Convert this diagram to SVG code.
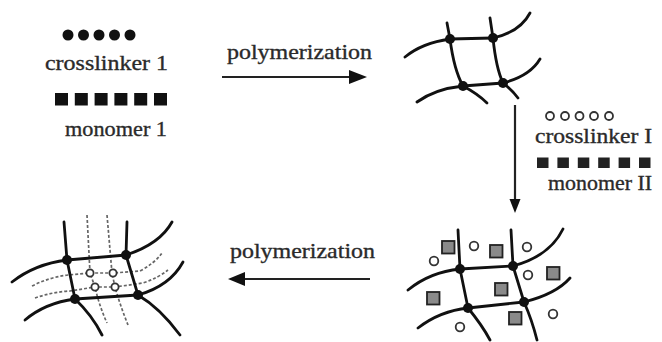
<svg xmlns="http://www.w3.org/2000/svg" width="662" height="342" viewBox="0 0 662 342">
  <style>
    .lbl { font-family: "Times New Roman", Times, "Liberation Serif", "DejaVu Serif", serif; font-size: 21px; fill: #2a2a2a; stroke: #2a2a2a; stroke-width: 0.35; }
    .chain { fill: none; stroke: #111; stroke-width: 2.8; stroke-linecap: round; stroke-linejoin: round; }
    .dash { fill: none; stroke: #666; stroke-width: 1.7; stroke-dasharray: 3 2; }
    .node { fill: #111; }
    .xl { fill: #111; }
    .xl2 { fill: #fff; stroke: #333; stroke-width: 1.8; }
    .mono { fill: #111; }
    .mono2 { fill: #222; }
    .gsq { fill: #8a8a8a; stroke: #222; stroke-width: 1.8; }
    .arrow { stroke: #222; stroke-width: 2.2; fill: none; }
    .head { fill: #111; }
  </style>

  <!-- reagents for the first network -->
  <g id="reagents-1">
    <circle class="xl" cx="68" cy="35" r="5.5"/>
    <circle class="xl" cx="83.5" cy="35" r="5.5"/>
    <circle class="xl" cx="99" cy="35" r="5.5"/>
    <circle class="xl" cx="114.5" cy="35" r="5.5"/>
    <circle class="xl" cx="130" cy="35" r="5.5"/>
    <text class="lbl" x="45" y="70" textLength="123" lengthAdjust="spacingAndGlyphs">crosslinker 1</text>
    <rect class="mono" x="55" y="93" width="13" height="12.5"/>
    <rect class="mono" x="74.8" y="93" width="13" height="12.5"/>
    <rect class="mono" x="94.6" y="93" width="13" height="12.5"/>
    <rect class="mono" x="114.4" y="93" width="13" height="12.5"/>
    <rect class="mono" x="134.2" y="93" width="13" height="12.5"/>
    <rect class="mono" x="154" y="93" width="13" height="12.5"/>
    <text class="lbl" x="65" y="136" textLength="102" lengthAdjust="spacingAndGlyphs">monomer 1</text>
  </g>

  <!-- first network -->
  <g id="network-1">
    <path class="chain" d="M405,57 Q422,43 450,39 L493,38 Q520,32 530,13"/>
    <path class="chain" d="M417,102 Q435,89 463,86 L503,83 Q530,76 540,59"/>
    <path class="chain" d="M447,23 L450,39 Q454,70 463,86 Q478,94 487,103"/>
    <path class="chain" d="M490,18 L493,38 Q496,68 503,83 Q512,90 518,98"/>
    <circle class="node" cx="450" cy="39" r="5"/>
    <circle class="node" cx="493" cy="38" r="5"/>
    <circle class="node" cx="463" cy="86" r="5"/>
    <circle class="node" cx="503" cy="83" r="5"/>
  </g>

  <!-- reagents for the second network -->
  <g id="reagents-2">
    <circle class="xl2" cx="550" cy="116" r="4"/>
    <circle class="xl2" cx="565" cy="116" r="4"/>
    <circle class="xl2" cx="579.5" cy="116" r="4"/>
    <circle class="xl2" cx="594" cy="116" r="4"/>
    <circle class="xl2" cx="609" cy="116" r="4"/>
    <text class="lbl" x="535" y="143" textLength="117" lengthAdjust="spacingAndGlyphs">crosslinker I</text>
    <rect class="mono2" x="537" y="157.5" width="11.5" height="10.5"/>
    <rect class="mono2" x="557.4" y="157.5" width="11.5" height="10.5"/>
    <rect class="mono2" x="577.8" y="157.5" width="11.5" height="10.5"/>
    <rect class="mono2" x="598.2" y="157.5" width="11.5" height="10.5"/>
    <rect class="mono2" x="618.6" y="157.5" width="11.5" height="10.5"/>
    <rect class="mono2" x="639" y="157.5" width="11.5" height="10.5"/>
    <text class="lbl" x="548" y="190" textLength="104" lengthAdjust="spacingAndGlyphs">monomer II</text>
  </g>

  <!-- swollen network with second monomer and crosslinker -->
  <g id="network-swollen">
    <path class="chain" d="M408,290 Q430,272 460,269 L513,266 Q550,256 563,229"/>
    <path class="chain" d="M418,328 Q440,311 468,308 L524,302 Q556,294 570,278"/>
    <path class="chain" d="M458,230 L460,269 L468,308 Q482,325 490,340"/>
    <path class="chain" d="M511,230 L513,266 L524,302 Q532,320 537,340"/>
    <circle class="node" cx="460" cy="269" r="5"/>
    <circle class="node" cx="513" cy="266" r="5"/>
    <circle class="node" cx="468" cy="308" r="5"/>
    <circle class="node" cx="524" cy="302" r="5"/>
    <rect class="gsq" x="442" y="241" width="12.5" height="12.5"/>
    <rect class="gsq" x="490" y="245" width="12.5" height="12.5"/>
    <rect class="gsq" x="547" y="267" width="12.5" height="12.5"/>
    <rect class="gsq" x="427" y="292" width="12.5" height="12.5"/>
    <rect class="gsq" x="495" y="283" width="12.5" height="12.5"/>
    <rect class="gsq" x="509" y="312" width="12.5" height="12.5"/>
    <circle class="xl2" cx="474" cy="246" r="4.3"/>
    <circle class="xl2" cx="527" cy="247" r="4.3"/>
    <circle class="xl2" cx="434" cy="261" r="4.3"/>
    <circle class="xl2" cx="528" cy="275" r="4.3"/>
    <circle class="xl2" cx="553" cy="314" r="4.3"/>
    <circle class="xl2" cx="460" cy="327" r="4.3"/>
  </g>

  <!-- interpenetrating network -->
  <g id="network-ipn">
    <path class="dash" d="M87,215 L90,273 L95,287 Q99,305 107,323"/>
    <path class="dash" d="M107,215 L112,273 L115,287 Q120,305 128,325"/>
    <path class="dash" d="M32,286 Q50,277 68,275 L90,273 L113,273 L140,271 Q155,263 162,253"/>
    <path class="dash" d="M35,298 Q52,292 70,291 L95,287 L115,287 L143,283 Q158,278 168,270"/>
    <path class="chain" d="M12,282 Q35,264 67,260 L126,255 Q160,244 172,222"/>
    <path class="chain" d="M25,320 Q45,303 75,299 L138,295 Q170,286 183,262"/>
    <path class="chain" d="M64,222 L67,260 L75,299 Q92,315 102,335"/>
    <path class="chain" d="M127,222 L126,255 L138,295 Q160,308 180,335"/>
    <circle class="node" cx="67" cy="260" r="5"/>
    <circle class="node" cx="126" cy="255" r="5"/>
    <circle class="node" cx="75" cy="299" r="5"/>
    <circle class="node" cx="138" cy="295" r="5"/>
    <circle class="xl2" cx="90" cy="273" r="3.6"/>
    <circle class="xl2" cx="113" cy="273" r="3.6"/>
    <circle class="xl2" cx="95" cy="287" r="3.6"/>
    <circle class="xl2" cx="115" cy="287" r="3.6"/>
  </g>

  <!-- reaction arrows -->
  <g id="connectors">
    <text class="lbl" x="227" y="59" textLength="145" lengthAdjust="spacingAndGlyphs">polymerization</text>
    <line class="arrow" x1="222" y1="77" x2="352" y2="77"/>
    <polygon class="head" points="367,77 349,70 349,84"/>

    <line class="arrow" x1="515" y1="105" x2="515" y2="201"/>
    <polygon class="head" points="515,213 509.5,199 520.5,199"/>

    <text class="lbl" x="230" y="258" textLength="145" lengthAdjust="spacingAndGlyphs">polymerization</text>
    <line class="arrow" x1="370" y1="279" x2="242" y2="279"/>
    <polygon class="head" points="228,279 245,272 245,286"/>
  </g>
</svg>
